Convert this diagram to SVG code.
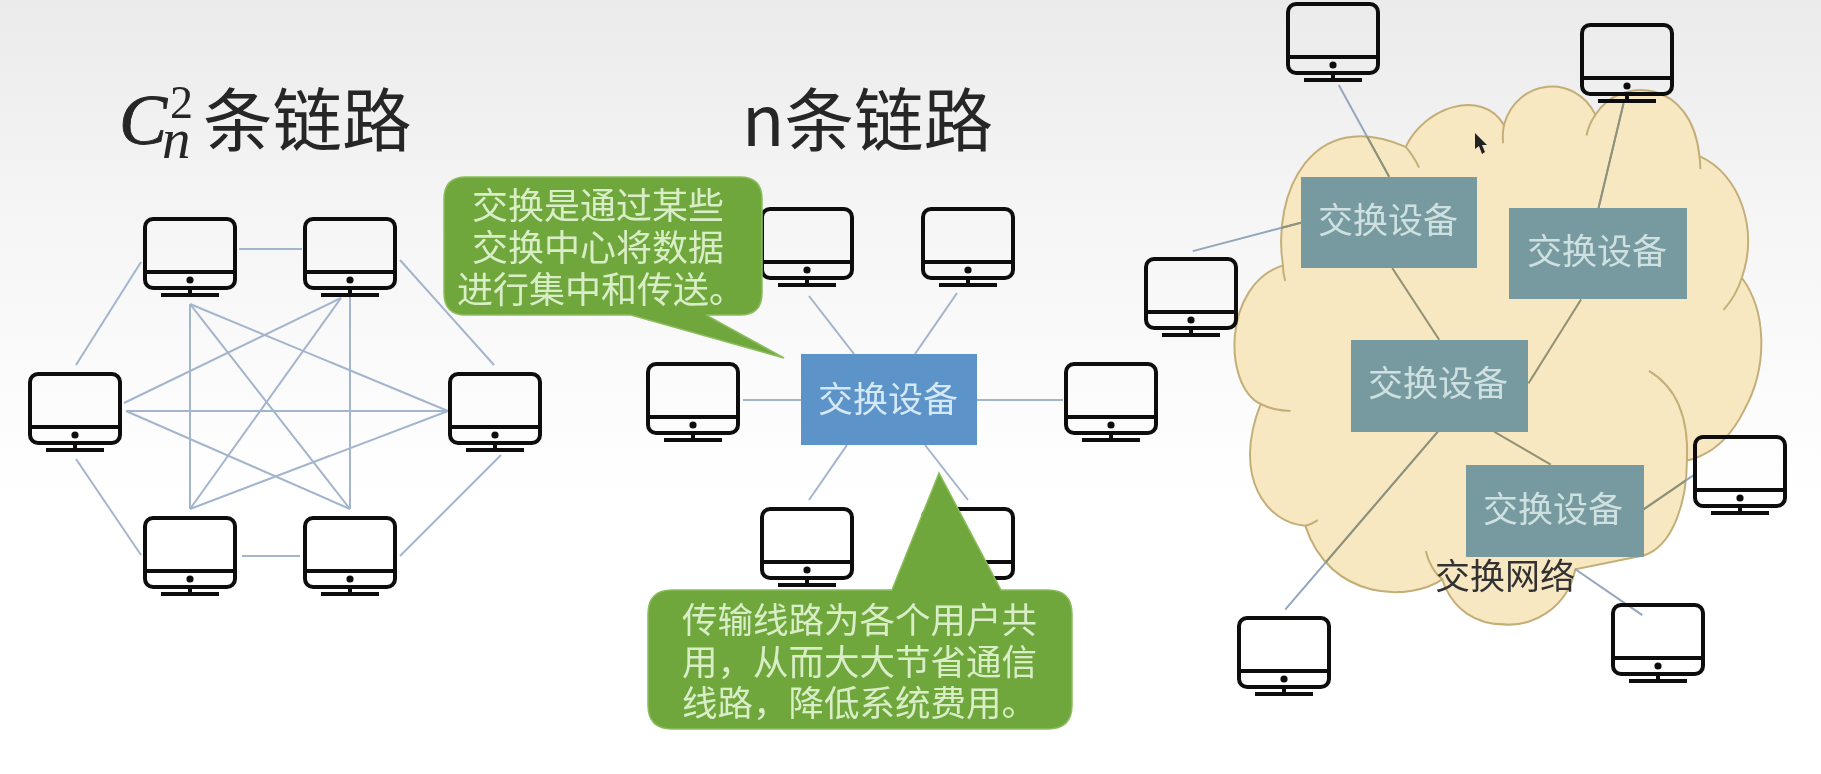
<svg xmlns="http://www.w3.org/2000/svg" width="1821" height="774" viewBox="0 0 1821 774">
<style>
.cn{font-family:"Noto Sans CJK SC","Noto Sans",sans-serif}
.title{font-size:69.5px;fill:#262626}
.c1{font-size:36px;fill:#d9eec6}
.c2{font-size:35.5px;fill:#d9eec6}
.dev{font-size:35px;fill:#cfe0e0;text-anchor:middle}
.cl{stroke:#a3b5cc;stroke-width:2;fill:none}
.cin{stroke:#8f9275;stroke-width:4.4;fill:none}
.cout{stroke:#93a6bd;stroke-width:4.4;fill:none}
.teal{fill:#769a9f;stroke:none}
.green{fill:#70a73e;stroke:#8bbd5c;stroke-width:1.5}
.mon{fill:none;stroke:#111;stroke-width:4}
.math{font-family:"Liberation Serif",serif;fill:#262626}
</style>
<defs>
<filter id="soft" filterUnits="userSpaceOnUse" x="0" y="0" width="1821" height="774"><feGaussianBlur stdDeviation="0.55"/></filter>
<linearGradient id="bg" x1="0" y1="0" x2="0" y2="1">
<stop offset="0" stop-color="#ebebeb"/><stop offset="0.3" stop-color="#f6f6f6"/><stop offset="0.65" stop-color="#ffffff"/><stop offset="1" stop-color="#ffffff"/>
</linearGradient>
<symbol id="pc" overflow="visible">
<rect class="mon" x="-45" y="2" width="90" height="69" rx="8"/>
<line class="mon" x1="-45" y1="55" x2="45" y2="55"/>
<circle cx="0" cy="63" r="3.6" fill="#111"/>
<line class="mon" x1="0" y1="71" x2="0" y2="78"/>
<line class="mon" x1="-29" y1="78" x2="29" y2="78"/>
</symbol>
<path id="cloudShape" d="M640 320 C680 235 810 190 860 272 C890 170 1020 160 1065 250 C1120 165 1280 170 1298 340 C1390 380 1430 500 1393 605 C1450 680 1450 800 1400 890 C1370 950 1330 990 1270 1003 C1270 1090 1240 1190 1172 1210 L1020 1240 C1000 1330 920 1365 860 1360 C800 1360 745 1330 722 1262 C650 1310 470 1310 415 1145 C330 1140 250 1040 315 880 C230 840 230 620 365 578 C340 420 430 230 640 320 Z"/>
<clipPath id="cloudClip" clipPathUnits="userSpaceOnUse"><use href="#cloudShape"/></clipPath>
</defs>
<rect id="background" width="1821" height="774" fill="url(#bg)"/>
<g id="picture" filter="url(#soft)">

<text id="title-left"><tspan x="119" y="144" class="math" font-style="italic" font-size="72" stroke="#262626" stroke-width="0.8">C</tspan><tspan x="170" y="118" class="math" font-size="46">2</tspan><tspan x="162" y="158" class="math" font-style="italic" font-size="57">n</tspan><tspan x="203" y="146" class="cn title">条链路</tspan></text>
<text id="title-mid" x="742" y="146" class="cn title">n条链路</text>

<g id="connectors-left" class="cl">
<line x1="239" y1="249" x2="302" y2="249"/>
<line x1="141" y1="262" x2="76" y2="365"/>
<line x1="400" y1="260" x2="494" y2="365"/>
<line x1="76" y1="459" x2="141" y2="555"/>
<line x1="501" y1="455" x2="400" y2="556"/>
<line x1="242" y1="556" x2="300" y2="556"/>
<line x1="190" y1="304" x2="190" y2="509"/>
<line x1="350" y1="295" x2="350" y2="509"/>
<line x1="126" y1="411" x2="448" y2="411"/>
<line x1="190" y1="304" x2="448" y2="411"/>
<line x1="190" y1="304" x2="350" y2="509"/>
<line x1="341" y1="298" x2="124" y2="403"/>
<line x1="341" y1="298" x2="190" y2="509"/>
<line x1="126" y1="411" x2="350" y2="509"/>
<line x1="448" y1="411" x2="190" y2="509"/>
</g>
<g id="connectors-mid" class="cl">
<line x1="809" y1="296" x2="854" y2="354"/>
<line x1="957" y1="293" x2="915" y2="354"/>
<line x1="743" y1="400" x2="801" y2="400"/>
<line x1="977" y1="400" x2="1063" y2="400"/>
<line x1="847" y1="445" x2="809" y2="500"/>
<line x1="925" y1="445" x2="968" y2="500"/>
</g>

<g id="pc-left-1"><use href="#pc" x="190" y="217"/></g>
<g id="pc-left-2"><use href="#pc" x="350" y="217"/></g>
<g id="pc-left-3"><use href="#pc" x="75" y="372"/></g>
<g id="pc-left-4"><use href="#pc" x="495" y="372"/></g>
<g id="pc-left-5"><use href="#pc" x="190" y="516"/></g>
<g id="pc-left-6"><use href="#pc" x="350" y="516"/></g>

<g id="pc-mid-1"><use href="#pc" x="807" y="207"/></g>
<g id="pc-mid-2"><use href="#pc" x="968" y="207"/></g>
<g id="pc-mid-3"><use href="#pc" x="693" y="362"/></g>
<g id="pc-mid-4"><use href="#pc" x="1111" y="362"/></g>
<g id="pc-mid-5"><use href="#pc" x="807" y="507"/></g>
<g id="pc-mid-6"><use href="#pc" x="968" y="507"/></g>

<g id="switch-mid">
<rect x="801" y="354" width="176" height="91" fill="#5b93c9"/>
<text x="888" y="412" class="cn dev" style="fill:#d5e8f5">交换设备</text>
</g>

<g id="callout-1">
<path class="green" d="M466 177 H740 Q762 177 762 199 V293 Q762 315 740 315 H706 L784 358 L631 315 H466 Q444 315 444 293 V199 Q444 177 466 177 Z"/>
<text x="472" y="219" class="cn c1">交换是通过某些</text>
<text x="472" y="261" class="cn c1">交换中心将数据</text>
<text x="457" y="303" class="cn c1">进行集中和传送。</text>
</g>

<g id="cloud" transform="matrix(0.4464 0 0 0.4591 1120 0)">
<use href="#cloudShape" fill="#f8e8c2" stroke="#c4ae78" stroke-width="4.4"/>
<g fill="none" stroke="#c4ae78" stroke-width="4.4">
<path d="M640 320 Q658 340 670 365"/>
<path d="M860 272 Q856 292 858 312"/>
<path d="M1065 250 Q1050 270 1045 295"/>
<path d="M1298 340 Q1300 355 1300 368"/>
<path d="M1393 605 Q1380 645 1352 675"/>
<path d="M1185 808 C1240 840 1275 900 1270 1003"/>
<path d="M685 1200 Q695 1240 722 1262"/>
<path d="M415 1145 Q430 1142 443 1133"/>
<path d="M315 880 Q345 895 382 895"/>
<path d="M365 578 Q365 595 370 612"/>
</g>
</g>

<g id="connectors-right" transform="matrix(0.4464 0 0 0.4591 1120 0)">
<g class="cout">
<line x1="490" y1="185" x2="603" y2="385"/>
<line x1="1072" y1="453" x2="1128" y2="225"/>
<line x1="712" y1="940" x2="370" y2="1328"/>
<line x1="1172" y1="1110" x2="1285" y2="1035"/>
<line x1="1020" y1="1240" x2="1170" y2="1340"/>
<line x1="405" y1="485" x2="163" y2="547"/>
</g>
<g class="cin" clip-path="url(#cloudClip)">
<line x1="490" y1="185" x2="603" y2="385"/>
<line x1="1072" y1="453" x2="1128" y2="225"/>
<line x1="712" y1="940" x2="370" y2="1328"/>
<line x1="1172" y1="1110" x2="1285" y2="1035"/>
<line x1="1020" y1="1240" x2="1170" y2="1340"/>
<line x1="405" y1="485" x2="163" y2="547"/>
</g>
<g class="cin">
<line x1="610" y1="584" x2="715" y2="740"/>
<line x1="915" y1="835" x2="1033" y2="652"/>
<line x1="838" y1="940" x2="965" y2="1012"/>
</g>
</g>

<g id="switch-a"><rect class="teal" x="1301" y="177" width="176" height="91"/><text x="1388" y="233" class="cn dev">交换设备</text></g>
<g id="switch-b"><rect class="teal" x="1509" y="208" width="178" height="91"/><text x="1597" y="264" class="cn dev">交换设备</text></g>
<g id="switch-c"><rect class="teal" x="1351" y="340" width="177" height="92"/><text x="1438" y="396" class="cn dev">交换设备</text></g>
<g id="switch-d"><rect class="teal" x="1466" y="465" width="178" height="92"/><text x="1553" y="522" class="cn dev">交换设备</text></g>
<text id="cloud-label" x="1505" y="589" class="cn" font-size="35" text-anchor="middle" fill="#333">交换网络</text>

<g id="pc-right-1"><use href="#pc" x="1333" y="2"/></g>
<g id="pc-right-2"><use href="#pc" x="1627" y="23"/></g>
<g id="pc-right-3"><use href="#pc" x="1191" y="257"/></g>
<g id="pc-right-4"><use href="#pc" x="1740" y="435"/></g>
<g id="pc-right-5"><use href="#pc" x="1284" y="616"/></g>
<g id="pc-right-6"><use href="#pc" x="1658" y="603"/></g>

<g id="callout-2">
<path class="green" d="M672 590 H892 L939 473 L1001 590 H1048 Q1072 590 1072 614 V705 Q1072 729 1048 729 H672 Q648 729 648 705 V614 Q648 590 672 590 Z"/>
<text x="682" y="633" class="cn c2">传输线路为各个用户共</text>
<text x="682" y="675" class="cn c2">用，从而大大节省通信</text>
<text x="682" y="716" class="cn c2">线路，降低系统费用。</text>
</g>

<polygon id="cursor" points="1475,133 1475,149 1479,146 1482,154 1485,152 1482,145 1487,145" fill="#222"/>
</g>
</svg>
